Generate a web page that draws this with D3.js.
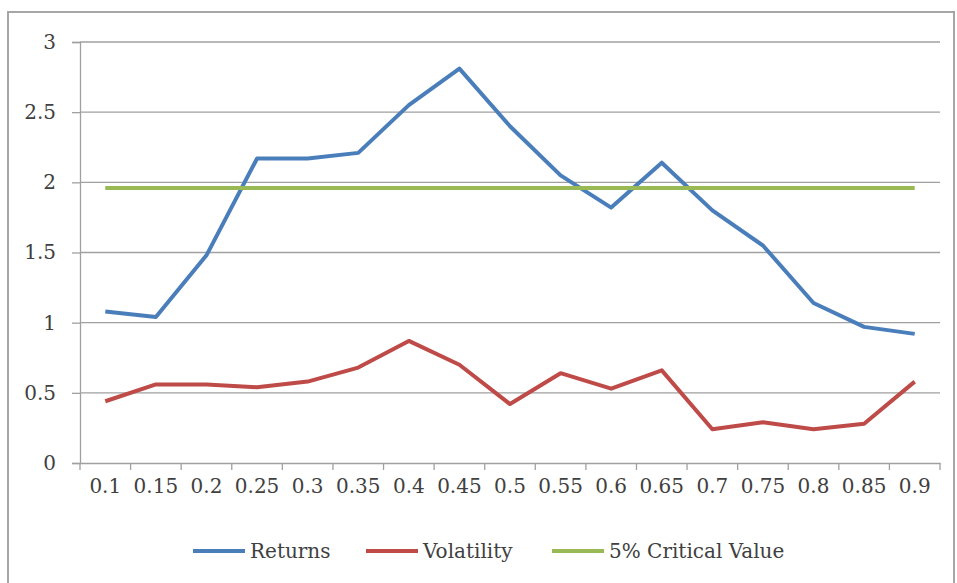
<!DOCTYPE html>
<html lang="en">
<head>
<meta charset="utf-8">
<script src="https://d3js.org/d3.v7.min.js"></script>
<style>
  body { margin: 0; background: #fff; }
  svg { display: block; }
  text { font-family: 'DejaVu Serif', serif; fill: #404040; }
</style>
</head>
<body>
<svg width="957" height="583"></svg>
<script>
// values
const categories = ['0.1', '0.15', '0.2', '0.25', '0.3', '0.35', '0.4', '0.45', '0.5',
  '0.55', '0.6', '0.65', '0.7', '0.75', '0.8', '0.85', '0.9'];
const returns = [1.08, 1.04, 1.48, 2.17, 2.17, 2.21, 2.55, 2.81, 2.40,
  2.05, 1.82, 2.14, 1.80, 1.55, 1.14, 0.97, 0.92];
const volatility = [0.44, 0.56, 0.56, 0.54, 0.58, 0.68, 0.87, 0.70, 0.42,
  0.64, 0.53, 0.66, 0.24, 0.29, 0.24, 0.28, 0.58];
const critical = categories.map(() => 1.96);
const yTicks = [0, 0.5, 1, 1.5, 2, 2.5, 3];
const seriesNames = ['Returns', 'Volatility', '5% Critical Value'];
const seriesColors = ['#4a7ebb', '#be4b48', '#98b954'];

const svg = d3.select('svg');
const plotLeft = 80, plotRight = 940, plotTop = 42, plotBottom = 463;

// outer frame
svg.append('rect')
  .attr('x', 8).attr('y', 12)
  .attr('width', 946).attr('height', 580)
  .attr('fill', 'none')
  .attr('stroke', '#a6a6a6')
  .attr('stroke-width', 2);

const x = d3.scaleBand().domain(categories).range([plotLeft, plotRight]);
const y = d3.scaleLinear().domain([0, 3]).range([plotBottom, plotTop]);

// gridlines
svg.append('g')
  .selectAll('line')
  .data(yTicks.filter(d => d > 0))
  .join('line')
  .attr('x1', plotLeft).attr('x2', plotRight)
  .attr('y1', d => y(d)).attr('y2', d => y(d))
  .attr('stroke', '#a0a0a0')
  .attr('stroke-width', 1.3);

// y axis
const yAxis = svg.append('g')
  .attr('transform', `translate(${plotLeft},0)`)
  .call(d3.axisLeft(y).tickValues(yTicks).tickSize(8).tickPadding(16).tickFormat(d3.format('')));
yAxis.select('.domain').attr('stroke', '#a0a0a0').attr('stroke-width', 1.3);
yAxis.selectAll('.tick line').attr('stroke', '#a0a0a0').attr('stroke-width', 1.3);
yAxis.selectAll('text').style('font-size', '20px').attr('fill', '#404040')
  .style('font-family', "'DejaVu Serif', serif");

// x axis: ticks sit between categories
const xAxis = svg.append('g')
  .attr('transform', `translate(0,${plotBottom})`)
  .call(d3.axisBottom(x).tickSize(0).tickPadding(16));
xAxis.select('.domain').attr('stroke', '#a0a0a0').attr('stroke-width', 1.3);
xAxis.selectAll('text').style('font-size', '20px').attr('fill', '#404040')
  .style('font-family', "'DejaVu Serif', serif");
xAxis.selectAll('.tickmark')
  .data(categories.concat(['end']))
  .join('line')
  .attr('class', 'tickmark')
  .attr('x1', (d, i) => plotLeft + i * x.bandwidth())
  .attr('x2', (d, i) => plotLeft + i * x.bandwidth())
  .attr('y1', 0).attr('y2', 7)
  .attr('stroke', '#a0a0a0')
  .attr('stroke-width', 1.3);

// lines
const line = d3.line()
  .x((d, i) => x(categories[i]) + x.bandwidth() / 2)
  .y(d => y(d));

[returns, volatility, critical].forEach((s, k) => {
  svg.append('path')
    .datum(s)
    .attr('d', line)
    .attr('fill', 'none')
    .attr('stroke', seriesColors[k])
    .attr('stroke-width', 4)
    .attr('stroke-linejoin', 'round');
});

// legend
const legendX = [193, 366, 552];
const legend = svg.append('g');
seriesNames.forEach((name, k) => {
  legend.append('line')
    .attr('x1', legendX[k]).attr('x2', legendX[k] + 52)
    .attr('y1', 551).attr('y2', 551)
    .attr('stroke', seriesColors[k])
    .attr('stroke-width', 4);
  legend.append('text')
    .attr('x', legendX[k] + 57)
    .attr('y', 558)
    .style('font-size', '20px')
    .text(name);
});
</script>
</body>
</html>
